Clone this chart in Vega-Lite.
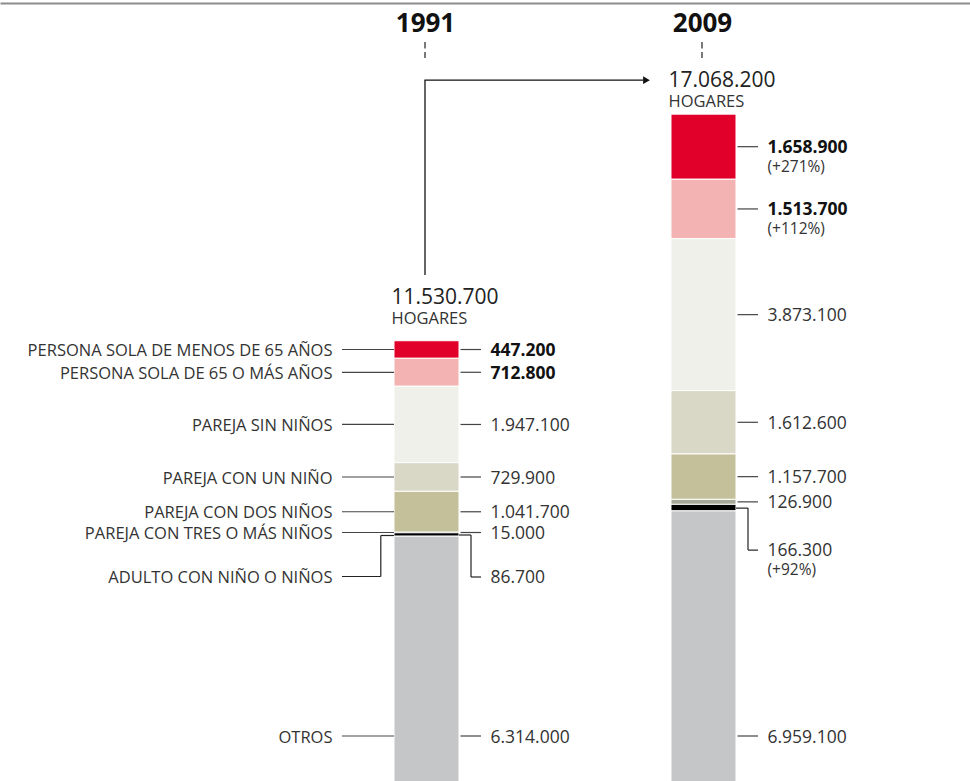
{
  "$schema": "https://vega.github.io/schema/vega-lite/v6.json",
  "width": 970,
  "height": 781,
  "autosize": "none",
  "padding": {"top": 3, "left": 0, "right": 0, "bottom": 0},
  "background": "#ffffff",
  "config": {
    "view": {"stroke": null},
    "locale": {"number": {"decimal": ",", "thousands": ".", "grouping": [3], "currency": ["", " €"]}},
    "text": {"font": "Open Sans", "color": "#333333"}
  },
  "datasets": {
    "hogares": [
      {"year": 1991, "cat": "PERSONA SOLA DE MENOS DE 65 AÑOS", "order": 8, "value": 447200},
      {"year": 1991, "cat": "PERSONA SOLA DE 65 O MÁS AÑOS", "order": 7, "value": 712800},
      {"year": 1991, "cat": "PAREJA SIN NIÑOS", "order": 6, "value": 1947100},
      {"year": 1991, "cat": "PAREJA CON UN NIÑO", "order": 5, "value": 729900},
      {"year": 1991, "cat": "PAREJA CON DOS NIÑOS", "order": 4, "value": 1041700},
      {"year": 1991, "cat": "PAREJA CON TRES O MÁS NIÑOS", "order": 3, "value": 15000},
      {"year": 1991, "cat": "ADULTO CON NIÑO O NIÑOS", "order": 2, "value": 86700},
      {"year": 1991, "cat": "OTROS", "order": 1, "value": 6314000},
      {"year": 2009, "cat": "PERSONA SOLA DE MENOS DE 65 AÑOS", "order": 8, "value": 1658900, "cambio": 271},
      {"year": 2009, "cat": "PERSONA SOLA DE 65 O MÁS AÑOS", "order": 7, "value": 1513700, "cambio": 112},
      {"year": 2009, "cat": "PAREJA SIN NIÑOS", "order": 6, "value": 3873100},
      {"year": 2009, "cat": "PAREJA CON UN NIÑO", "order": 5, "value": 1612600},
      {"year": 2009, "cat": "PAREJA CON DOS NIÑOS", "order": 4, "value": 1157700},
      {"year": 2009, "cat": "PAREJA CON TRES O MÁS NIÑOS", "order": 3, "value": 126900},
      {"year": 2009, "cat": "ADULTO CON NIÑO O NIÑOS", "order": 2, "value": 166300, "cambio": 92},
      {"year": 2009, "cat": "OTROS", "order": 1, "value": 6959100}
    ],
    "totales": [
      {"year": 1991, "total": 11530700},
      {"year": 2009, "total": 17068200}
    ]
  },
  "encoding": {
    "x": {
      "field": "year",
      "type": "quantitative",
      "scale": {"domain": [1963.285, 2026.318], "nice": false, "zero": false},
      "axis": {"orient": "top", "labels": false, "ticks": false, "grid": false, "title": null, "domain": true, "domainColor": "#8c8c8c", "domainWidth": 2}
    }
  },
  "layer": [
    {
      "data": {"name": "hogares"},
      "transform": [
        {"stack": "value", "groupby": ["year"], "sort": [{"field": "order", "order": "ascending"}], "as": ["v0", "v1"]},
        {"calculate": "(datum.v0 + datum.v1) / 2", "as": "mid"}
      ],
      "layer": [
        {
          "mark": {"type": "bar", "stroke": "#ffffff", "strokeWidth": 1, "xOffset": -32.5, "x2Offset": 32.5},
          "encoding": {
            "x2": {"field": "year"},
            "y": {"field": "v1", "type": "quantitative", "scale": {"domain": [0, 19900000], "nice": false, "zero": true}, "axis": null},
            "y2": {"field": "v0"},
            "color": {
              "field": "cat", "type": "nominal", "legend": null,
              "scale": {
                "domain": ["PERSONA SOLA DE MENOS DE 65 AÑOS", "PERSONA SOLA DE 65 O MÁS AÑOS", "PAREJA SIN NIÑOS", "PAREJA CON UN NIÑO", "PAREJA CON DOS NIÑOS", "PAREJA CON TRES O MÁS NIÑOS", "ADULTO CON NIÑO O NIÑOS", "OTROS"],
                "range": ["#e1002a", "#f4b3b3", "#f0f0ea", "#d9d7c5", "#c4c19a", "#a6a898", "#000000", "#c5c6c8"]
              }
            }
          }
        },
        {
          "transform": [{"filter": "datum.year == 1991 && datum.order >= 3"}],
          "mark": {"type": "rule", "color": "#444444", "strokeWidth": 1.2, "xOffset": -84.5, "x2Offset": -32.5},
          "encoding": {"x2": {"field": "year"}, "y": {"field": "mid", "type": "quantitative", "scale": {"domain": [0, 19900000], "nice": false}, "axis": null}}
        },
        {
          "transform": [{"filter": "datum.year == 1991 && datum.order == 1"}],
          "mark": {"type": "rule", "color": "#444444", "strokeWidth": 1.2, "xOffset": -84.5, "x2Offset": -32.5, "yOffset": -48},
          "encoding": {"x2": {"field": "year"}, "y": {"field": "v0", "type": "quantitative", "scale": {"domain": [0, 19900000], "nice": false}, "axis": null}}
        },
        {
          "transform": [{"filter": "datum.year == 1991 && datum.order == 2"}],
          "mark": {"type": "rule", "color": "#222222", "strokeWidth": 1.2, "xOffset": -45.7, "x2Offset": -32.5, "yOffset": 1},
          "encoding": {"x2": {"field": "year"}, "y": {"field": "mid", "type": "quantitative", "scale": {"domain": [0, 19900000], "nice": false}, "axis": null}}
        },
        {
          "transform": [{"filter": "datum.year == 1991 && datum.order == 2"}],
          "mark": {"type": "rule", "color": "#222222", "strokeWidth": 1.2, "xOffset": -45.7, "yOffset": 1, "y2Offset": 42},
          "encoding": {"y": {"field": "mid", "type": "quantitative", "scale": {"domain": [0, 19900000], "nice": false}, "axis": null}, "y2": {"field": "mid"}}
        },
        {
          "transform": [{"filter": "datum.year == 1991 && datum.order == 2"}],
          "mark": {"type": "rule", "color": "#222222", "strokeWidth": 1.2, "xOffset": -84.5, "x2Offset": -45.7, "yOffset": 42},
          "encoding": {"x2": {"field": "year"}, "y": {"field": "mid", "type": "quantitative", "scale": {"domain": [0, 19900000], "nice": false}, "axis": null}}
        },
        {
          "transform": [{"filter": "datum.order >= 3"}],
          "mark": {"type": "rule", "color": "#444444", "strokeWidth": 1.2, "xOffset": 34, "x2Offset": 54.5},
          "encoding": {"x2": {"field": "year"}, "y": {"field": "mid", "type": "quantitative", "scale": {"domain": [0, 19900000], "nice": false}, "axis": null}}
        },
        {
          "transform": [{"filter": "datum.order == 1"}],
          "mark": {"type": "rule", "color": "#444444", "strokeWidth": 1.2, "xOffset": 34, "x2Offset": 54.5, "yOffset": -48},
          "encoding": {"x2": {"field": "year"}, "y": {"field": "v0", "type": "quantitative", "scale": {"domain": [0, 19900000], "nice": false}, "axis": null}}
        },
        {
          "transform": [{"filter": "datum.order == 2"}],
          "mark": {"type": "rule", "color": "#222222", "strokeWidth": 1.2, "xOffset": 32.5, "x2Offset": 44.5, "yOffset": 0.5},
          "encoding": {"x2": {"field": "year"}, "y": {"field": "mid", "type": "quantitative", "scale": {"domain": [0, 19900000], "nice": false}, "axis": null}}
        },
        {
          "transform": [{"filter": "datum.order == 2"}],
          "mark": {"type": "rule", "color": "#222222", "strokeWidth": 1.2, "xOffset": 44.5, "yOffset": 0.5, "y2Offset": 42.5},
          "encoding": {"y": {"field": "mid", "type": "quantitative", "scale": {"domain": [0, 19900000], "nice": false}, "axis": null}, "y2": {"field": "mid"}}
        },
        {
          "transform": [{"filter": "datum.order == 2"}],
          "mark": {"type": "rule", "color": "#222222", "strokeWidth": 1.2, "xOffset": 44.5, "x2Offset": 54.5, "yOffset": 42.5},
          "encoding": {"x2": {"field": "year"}, "y": {"field": "mid", "type": "quantitative", "scale": {"domain": [0, 19900000], "nice": false}, "axis": null}}
        },
        {
          "transform": [{"filter": "datum.year == 1991 && datum.order >= 3"}],
          "mark": {"type": "text", "align": "right", "baseline": "middle", "dx": -94, "dy": 1.5, "fontSize": 16.5},
          "encoding": {"y": {"field": "mid", "type": "quantitative", "scale": {"domain": [0, 19900000], "nice": false}, "axis": null}, "text": {"field": "cat"}}
        },
        {
          "transform": [{"filter": "datum.year == 1991 && datum.order == 1"}],
          "mark": {"type": "text", "align": "right", "baseline": "middle", "dx": -94, "dy": -46.5, "fontSize": 16.5},
          "encoding": {"y": {"field": "v0", "type": "quantitative", "scale": {"domain": [0, 19900000], "nice": false}, "axis": null}, "text": {"field": "cat"}}
        },
        {
          "transform": [{"filter": "datum.year == 1991 && datum.order == 2"}],
          "mark": {"type": "text", "align": "right", "baseline": "middle", "dx": -94, "dy": 43.5, "fontSize": 16.5},
          "encoding": {"y": {"field": "mid", "type": "quantitative", "scale": {"domain": [0, 19900000], "nice": false}, "axis": null}, "text": {"field": "cat"}}
        },
        {
          "transform": [{"filter": "datum.order >= 3 && datum.order <= 6"}],
          "mark": {"type": "text", "align": "left", "baseline": "middle", "dx": 64, "dy": 1.5, "fontSize": 17.5},
          "encoding": {"y": {"field": "mid", "type": "quantitative", "scale": {"domain": [0, 19900000], "nice": false}, "axis": null}, "text": {"field": "value", "type": "quantitative", "format": ",d"}}
        },
        {
          "transform": [{"filter": "datum.order >= 7"}],
          "mark": {"type": "text", "align": "left", "baseline": "middle", "dx": 64, "dy": 1.5, "fontSize": 17.5, "fontWeight": "bold", "color": "#111111"},
          "encoding": {"y": {"field": "mid", "type": "quantitative", "scale": {"domain": [0, 19900000], "nice": false}, "axis": null}, "text": {"field": "value", "type": "quantitative", "format": ",d"}}
        },
        {
          "transform": [{"filter": "datum.order == 1"}],
          "mark": {"type": "text", "align": "left", "baseline": "middle", "dx": 64, "dy": -46.5, "fontSize": 17.5},
          "encoding": {"y": {"field": "v0", "type": "quantitative", "scale": {"domain": [0, 19900000], "nice": false}, "axis": null}, "text": {"field": "value", "type": "quantitative", "format": ",d"}}
        },
        {
          "transform": [{"filter": "datum.order == 2"}],
          "mark": {"type": "text", "align": "left", "baseline": "middle", "dx": 64, "dy": 43.5, "fontSize": 17.5},
          "encoding": {"y": {"field": "mid", "type": "quantitative", "scale": {"domain": [0, 19900000], "nice": false}, "axis": null}, "text": {"field": "value", "type": "quantitative", "format": ",d"}}
        },
        {
          "transform": [{"filter": "isValid(datum.cambio) && datum.order >= 7"}, {"calculate": "'(+' + datum.cambio + '%)'", "as": "cambioTxt"}],
          "mark": {"type": "text", "align": "left", "baseline": "middle", "dx": 64, "dy": 20, "fontSize": 15.5},
          "encoding": {"y": {"field": "mid", "type": "quantitative", "scale": {"domain": [0, 19900000], "nice": false}, "axis": null}, "text": {"field": "cambioTxt"}}
        },
        {
          "transform": [{"filter": "isValid(datum.cambio) && datum.order == 2"}, {"calculate": "'(+' + datum.cambio + '%)'", "as": "cambioTxt"}],
          "mark": {"type": "text", "align": "left", "baseline": "middle", "dx": 64, "dy": 62, "fontSize": 15.5},
          "encoding": {"y": {"field": "mid", "type": "quantitative", "scale": {"domain": [0, 19900000], "nice": false}, "axis": null}, "text": {"field": "cambioTxt"}}
        }
      ]
    },
    {
      "data": {"name": "totales"},
      "layer": [
        {
          "mark": {"type": "text", "align": "left", "baseline": "middle", "dx": -35, "dy": -33, "fontSize": 21, "color": "#222222"},
          "encoding": {"y": {"field": "total", "type": "quantitative", "scale": {"domain": [0, 19900000], "nice": false}, "axis": null}, "text": {"field": "total", "type": "quantitative", "format": ",d"}}
        },
        {
          "mark": {"type": "text", "align": "left", "baseline": "middle", "dx": -35, "dy": -12, "fontSize": 16.5, "text": "HOGARES"},
          "encoding": {"y": {"field": "total", "type": "quantitative", "scale": {"domain": [0, 19900000], "nice": false}, "axis": null}}
        },
        {
          "mark": {"type": "text", "align": "center", "baseline": "middle", "dx": -1, "dy": 21, "fontSize": 26, "fontWeight": "bold", "color": "#111111"},
          "encoding": {"y": {"datum": 19900000, "type": "quantitative", "scale": {"domain": [0, 19900000], "nice": false}, "axis": null}, "text": {"field": "year", "type": "nominal"}}
        },
        {
          "mark": {"type": "rule", "color": "#222222", "strokeWidth": 1.2, "strokeDash": [6.5, 3.5], "xOffset": -1.5, "yOffset": 39, "y2Offset": 55},
          "encoding": {"y": {"datum": 19900000, "type": "quantitative", "scale": {"domain": [0, 19900000], "nice": false}, "axis": null}, "y2": {"datum": 19900000}}
        },
        {
          "transform": [
            {"joinaggregate": [{"op": "max", "field": "total", "as": "tmax"}, {"op": "max", "field": "year", "as": "ymax"}]},
            {"filter": "datum.year == 1991"}
          ],
          "layer": [
            {
              "mark": {"type": "rule", "color": "#111111", "strokeWidth": 1.3, "xOffset": -1.5, "yOffset": -56.5, "y2Offset": -34},
              "encoding": {"y": {"field": "total", "type": "quantitative", "scale": {"domain": [0, 19900000], "nice": false}, "axis": null}, "y2": {"field": "tmax"}}
            },
            {
              "mark": {"type": "rule", "color": "#111111", "strokeWidth": 1.3, "xOffset": -2.1, "x2Offset": -60.5, "yOffset": -34},
              "encoding": {"x2": {"field": "ymax"}, "y": {"field": "tmax", "type": "quantitative", "scale": {"domain": [0, 19900000], "nice": false}, "axis": null}}
            }
          ]
        },
        {
          "transform": [{"filter": "datum.year == 2009"}],
          "mark": {"type": "point", "shape": "triangle-right", "filled": true, "color": "#111111", "opacity": 1, "size": 60, "xOffset": -57, "yOffset": -34},
          "encoding": {"y": {"field": "total", "type": "quantitative", "scale": {"domain": [0, 19900000], "nice": false}, "axis": null}}
        }
      ]
    }
  ]
}
